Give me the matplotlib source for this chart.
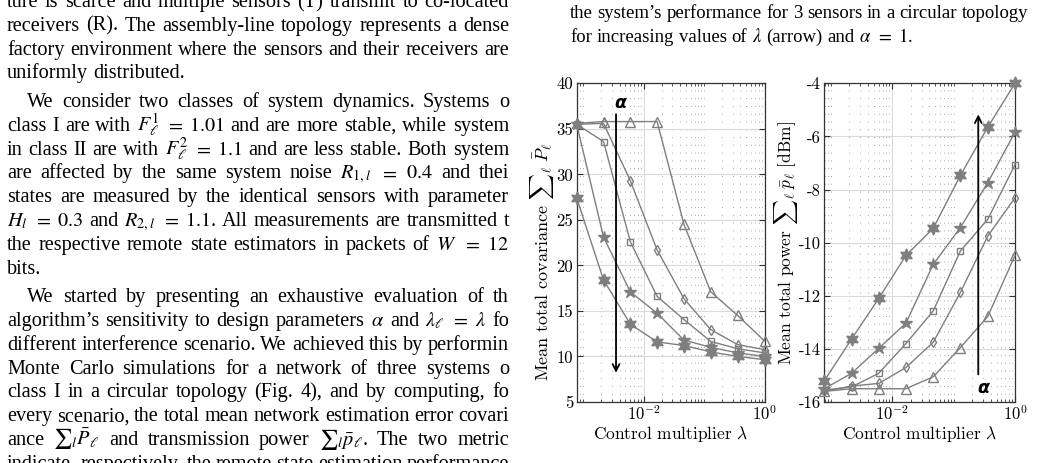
import matplotlib.pyplot as plt
from matplotlib.ticker import NullFormatter
from matplotlib.transforms import IdentityTransform

plt.rcParams['mathtext.fontset'] = 'cm'
plt.rcParams['axes.unicode_minus'] = False

W_PX, H_PX = 1042, 463

# control multiplier lambda (log x axis)
lam = [7.8e-4, 2.17e-3, 6.02e-3, 1.67e-2, 4.65e-2, 0.129, 0.360, 1.0]

# mean total covariance, one list per alpha (smallest alpha first)
cov_tri = [35.6, 35.8, 35.8, 35.8, 24.5, 17.1, 14.5, 11.7]
cov_dia = [35.5, 35.6, 29.3, 21.7, 16.35, 12.95, 11.3, 10.75]
cov_sq = [35.5, 33.6, 22.6, 16.6, 14.05, 11.65, 10.85, 10.4]
cov_pent = [35.5, 23.1, 17.1, 14.75, 11.8, 11.0, 10.4, 10.0]
cov_hex = [27.4, 18.4, 13.55, 11.6, 11.2, 10.5, 10.0, 9.65]

# mean total power [dBm]
pow_tri = [-15.6, -15.5, -15.5, -15.5, -15.05, -13.95, -12.78, -10.48]
pow_dia = [-15.6, -15.4, -15.3, -14.7, -13.75, -11.87, -9.75, -8.31]
pow_sq = [-15.55, -15.43, -14.92, -13.8, -12.57, -10.31, -9.12, -7.06]
pow_pent = [-15.5, -14.92, -13.98, -13.03, -10.82, -9.43, -7.74, -5.84]
pow_hex = [-15.2, -13.63, -12.1, -10.48, -9.46, -7.47, -5.65, -4.0]

cov_ticks = [5, 10, 15, 20, 25, 30, 35, 40]
pow_ticks = [-16, -14, -12, -10, -8, -6, -4]

# page text around the figure: (text, justified, indented)
left_col = [
    ("ture is scarce and multiple sensors (T) transmit to co-located", True, False),
    ("receivers (R). The assembly-line topology represents a dense", True, False),
    ("factory environment where the sensors and their receivers are", True, False),
    ("uniformly distributed.", False, False),
    ("We consider two classes of system dynamics. Systems o", True, True),
    (r"class I are with $F_\ell^1$ $=$ $1.01$ and are more stable, while system", True, False),
    (r"in class II are with $F_\ell^2$ $=$ $1.1$ and are less stable. Both system", True, False),
    (r"are affected by the same system noise $R_{1,l}$ $=$ $0.4$ and thei", True, False),
    ("states are measured by the identical sensors with parameter", True, False),
    (r"$H_l$ $=$ $0.3$ and $R_{2,l}$ $=$ $1.1$. All measurements are transmitted t", True, False),
    (r"the respective remote state estimators in packets of $W$ $=$ $12$", True, False),
    ("bits.", False, False),
    ("We started by presenting an exhaustive evaluation of th", True, True),
    (r"algorithm’s sensitivity to design parameters $\alpha$ and $\lambda_\ell$ $=$ $\lambda$ fo", True, False),
    ("different interference scenario. We achieved this by performin", True, False),
    ("Monte Carlo simulations for a network of three systems o", True, False),
    ("class I in a circular topology (Fig. 4), and by computing, fo", True, False),
    ("every scenario, the total mean network estimation error covari", True, False),
    (r"ance ${\sum}_l\bar{P}_\ell$ and transmission power ${\sum}_l\bar{p}_\ell$. The two metric", True, False),
    ("indicate, respectively, the remote state estimation performance", True, False),
]
right_col = [
    ("the system’s performance for 3 sensors in a circular topology", True, False),
    (r"for increasing values of $\lambda$ (arrow) and $\alpha$ $=$ $1.$", False, False),
]

GRAY = '#7f7f7f'
SPINE = '#333333'
MARKERS = ['^', 'd', 's', '*', (6, 1, 0)]
MSIZES = [6.5, 5.5, 4.5, 9, 9.5]
FILLED = [False, False, False, True, True]
LEFT_FS = 14.6
RIGHT_FS = 13.5


def draw_page_line(fig, renderer, text, x0, x1, baseline, justify, fs):
    words = text.split(' ')
    arts = [fig.text(0, 0, w, transform=IdentityTransform(), fontsize=fs,
                     family='Liberation Serif', math_fontfamily='stix',
                     va='baseline', ha='left') for w in words]
    widths = [a.get_window_extent(renderer).width for a in arts]
    space = 0.25 * fs * fig.dpi / 72
    if justify and len(words) > 1:
        space = (x1 - x0 - sum(widths)) / (len(words) - 1)
    x = x0
    for a, w in zip(arts, widths):
        a.set_position((x, H_PX - baseline))
        x += w + space


def style_axes(ax, yticks, ylabels):
    ax.set_xscale('log')
    ax.set_xticks([1e-4, 1e-2, 1])
    ax.set_xticklabels(['$10^{-4}$', '$10^{-2}$', '$10^{0}$'], fontsize=12)
    minors = [k * 10.0 ** n for n in range(-4, 0) for k in range(1, 10)
              if not (k == 1 and n % 2 == 0)]
    ax.set_xticks(minors, minor=True)
    ax.xaxis.set_minor_formatter(NullFormatter())
    ax.set_xlim(lam[0], lam[-1])
    ax.set_yticks(yticks)
    ax.set_yticklabels(ylabels, family='cmr10', fontsize=12)
    ax.set_ylim(yticks[0], yticks[-1])
    ax.grid(True, which='major', color='#dadada', lw=0.8, ls='-')
    ax.grid(True, which='minor', axis='x', color='#a8a8a8', lw=0.7,
            ls=(0, (1, 7)))
    ax.set_axisbelow(True)
    ax.tick_params(which='both', direction='in', top=True, right=True,
                   color=SPINE, pad=2.5)
    ax.tick_params(which='major', length=4)
    ax.tick_params(which='minor', length=2)
    for sp in ax.spines.values():
        sp.set_color(SPINE)
        sp.set_linewidth(0.9)


def plot_series(ax, series):
    for vals, m, ms, filled in zip(series, MARKERS, MSIZES, FILLED):
        ax.plot(lam, vals, color=GRAY, lw=1.0, marker=m, ms=ms,
                mec=GRAY, mew=1.0, mfc=GRAY if filled else 'none',
                clip_on=False, zorder=3)


def main():
    fig = plt.figure(figsize=(W_PX / 100, H_PX / 100), dpi=100)

    ax1 = fig.add_axes([576.7 / W_PX, 61 / H_PX, 187.8 / W_PX, 318.7 / H_PX])
    plot_series(ax1, [cov_tri, cov_dia, cov_sq, cov_pent, cov_hex])
    style_axes(ax1, cov_ticks, [str(t) for t in cov_ticks])
    ax1.set_xlabel(r'Control multiplier $\lambda$', family='cmr10', fontsize=12.5)
    ax1.set_ylabel(r'Mean total covariance ${\sum}_\ell\;\bar{P}_\ell$',
                   family='cmr10', fontsize=13)
    ax1.xaxis.set_label_coords(0.5, -0.07)
    ax1.yaxis.set_label_coords(-0.108, 0.44)
    ax1.annotate('', xy=(0.00349, 8.2), xytext=(0.00349, 36.6),
                 arrowprops=dict(arrowstyle='->', lw=1.3, color='k',
                                 mutation_scale=12, shrinkA=0, shrinkB=0))
    ax1.text(0.0041, 37.8, 'α', family='DejaVu Sans', weight='bold',
             style='italic', fontsize=12.5, ha='center', va='center')

    ax2 = fig.add_axes([824.3 / W_PX, 61 / H_PX, 190.7 / W_PX, 318.7 / H_PX])
    plot_series(ax2, [pow_tri, pow_dia, pow_sq, pow_pent, pow_hex])
    style_axes(ax2, pow_ticks, [str(t) for t in pow_ticks])
    ax2.set_xlabel(r'Control multiplier $\lambda$', family='cmr10', fontsize=12.5)
    ax2.set_ylabel(r'Mean total power ${\sum}_\ell\;\bar{p}_\ell$ [dBm]',
                   family='cmr10', fontsize=12.5)
    ax2.xaxis.set_label_coords(0.5, -0.07)
    ax2.yaxis.set_label_coords(-0.127, 0.5)
    ax2.annotate('', xy=(0.252, -5.17), xytext=(0.252, -14.96),
                 arrowprops=dict(arrowstyle='->', lw=1.3, color='k',
                                 mutation_scale=12, shrinkA=0, shrinkB=0))
    ax2.text(0.30, -15.47, 'α', family='DejaVu Sans', weight='bold',
             style='italic', fontsize=12.5, ha='center', va='center')

    renderer = fig.canvas.get_renderer()
    base = 7.0
    for i, (txt, just, indent) in enumerate(left_col):
        if indent and i > 0:
            base += 4.8
        x0 = 27 if indent else 7
        draw_page_line(fig, renderer, txt, x0, 509, base, just, LEFT_FS)
        base += 23.8
    for i, (txt, just, indent) in enumerate(right_col):
        draw_page_line(fig, renderer, txt, 570, 1028, 18.3 + 23.3 * i, just,
                       RIGHT_FS)

    fig.savefig('out.png', dpi=100)


if __name__ == "__main__":
    main()
